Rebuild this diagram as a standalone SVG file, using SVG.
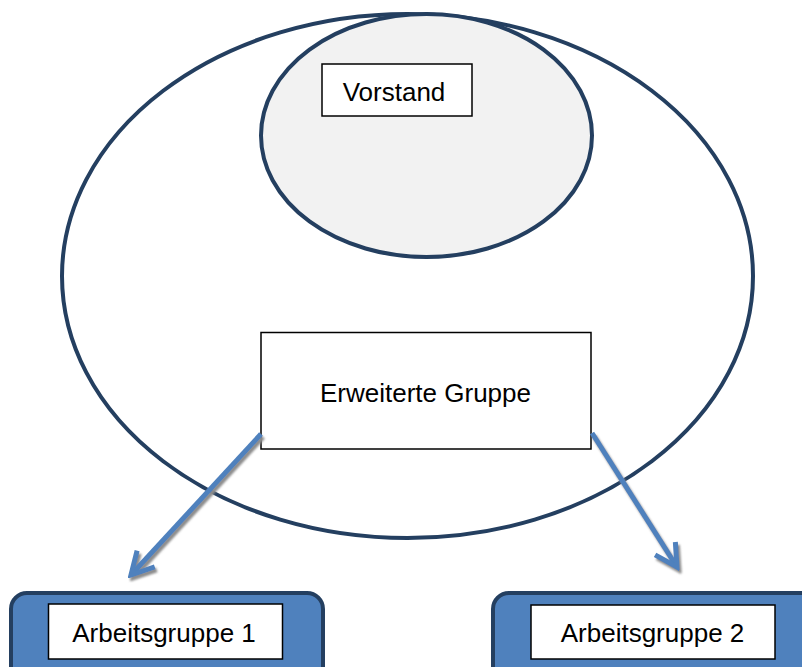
<svg xmlns="http://www.w3.org/2000/svg" width="802" height="667" viewBox="0 0 802 667">
<style>
.ell{stroke:#243f60;stroke-width:4}
.box{fill:#fff;stroke:#000;stroke-width:1.5}
.lbl{font-family:"Liberation Sans",Arial,sans-serif;font-size:26px;fill:#000;text-anchor:middle}
.ag{fill:#4f81bd;stroke:#243f60;stroke-width:4}
.conn{stroke:#4f81bd;stroke-width:5;fill:none}
</style>
<defs>
<marker id="ah" markerUnits="userSpaceOnUse" viewBox="0 0 30 30" markerWidth="30" markerHeight="30" refX="26" refY="15" orient="auto">
<path d="M4,3 L26,15 L4,27" fill="none" stroke="#4f81bd" stroke-width="5" stroke-linejoin="miter"/>
</marker>
<filter id="sh" x="-20%" y="-20%" width="140%" height="140%">
<feFlood flood-color="#8c8c8c" result="c"/>
<feComposite in="c" in2="SourceAlpha" operator="in" result="s"/>
<feOffset in="s" dx="2" dy="3" result="o"/>
<feGaussianBlur in="o" stdDeviation="0.8" result="b"/>
<feMerge><feMergeNode in="b"/><feMergeNode in="SourceGraphic"/></feMerge>
</filter>
</defs>
<rect width="802" height="667" fill="#fff"/>
<g id="grosse-gruppe">
<ellipse class="ell" cx="407.5" cy="276" rx="345.5" ry="262" fill="none"/>
</g>
<g id="vorstand">
<ellipse class="ell" cx="426.5" cy="135.5" rx="165.5" ry="121.5" fill="#f2f2f2"/>
<rect class="box" x="322" y="64" width="150" height="52"/>
<text class="lbl" x="394" y="101">Vorstand</text>
</g>
<g id="erweiterte-gruppe">
<rect class="box" x="261" y="332.5" width="330" height="116.5"/>
<text class="lbl" x="425.5" y="401.5">Erweiterte Gruppe</text>
</g>
<g id="connectors" filter="url(#sh)">
<line class="conn" x1="261" y1="434" x2="131" y2="575" marker-end="url(#ah)"/>
<line class="conn" x1="592" y1="433" x2="677" y2="567" marker-end="url(#ah)"/>
</g>
<g id="arbeitsgruppe-1">
<rect class="ag" x="11" y="593" width="312" height="100" rx="16"/>
<rect class="box" x="48.5" y="604" width="234" height="55"/>
<text class="lbl" x="164" y="641.5">Arbeitsgruppe 1</text>
</g>
<g id="arbeitsgruppe-2">
<rect class="ag" x="493" y="593" width="340" height="100" rx="16"/>
<rect class="box" x="531" y="605" width="244" height="54"/>
<text class="lbl" x="652.5" y="641.5">Arbeitsgruppe 2</text>
</g>
</svg>
